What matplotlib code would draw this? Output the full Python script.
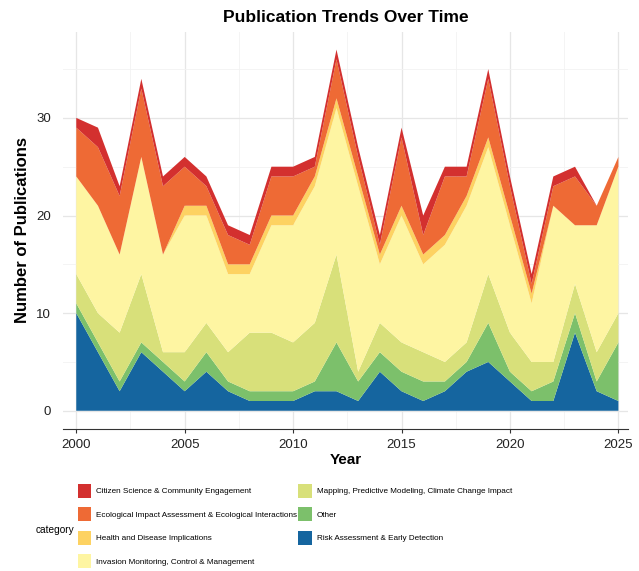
import matplotlib
matplotlib.use("Agg")
import matplotlib.pyplot as plt
from matplotlib.patches import Patch

plt.rcParams['font.family'] = ['Liberation Sans', 'DejaVu Sans']

years = list(range(2000, 2026))
categories = [
    "Citizen Science & Community Engagement",
    "Ecological Impact Assessment & Ecological Interactions",
    "Health and Disease Implications",
    "Invasion Monitoring, Control & Management",
    "Mapping, Predictive Modeling, Climate Change Impact",
    "Other",
    "Risk Assessment & Early Detection",
]
risk     = [10, 6, 2, 6, 4, 2, 4, 2, 1, 1, 1, 2, 2, 1, 4, 2, 1, 2, 4, 5, 3, 1, 1, 8, 2, 1]
other    = [1, 1, 1, 1, 1, 1, 2, 1, 1, 1, 1, 1, 5, 2, 2, 2, 2, 1, 1, 4, 1, 1, 2, 2, 1, 6]
mapping  = [3, 3, 5, 7, 1, 3, 3, 3, 6, 6, 5, 6, 9, 1, 3, 3, 3, 2, 2, 5, 4, 3, 2, 3, 3, 3]
invasion = [10, 11, 8, 12, 10, 14, 11, 8, 6, 11, 12, 14, 15, 19, 6, 13, 9, 12, 14, 13, 11, 6, 16, 6, 13, 15]
health   = [0, 0, 0, 0, 0, 1, 1, 1, 1, 1, 1, 1, 1, 1, 1, 1, 1, 1, 1, 1, 1, 1, 0, 0, 0, 0]
eco      = [5, 6, 6, 7, 7, 4, 2, 3, 2, 4, 4, 1, 4, 2, 1, 7, 2, 6, 2, 6, 3, 1, 2, 5, 2, 1]
citizen  = [1, 2, 1, 1, 1, 1, 1, 1, 1, 1, 1, 1, 1, 1, 1, 1, 2, 1, 1, 1, 1, 1, 1, 1, 0, 0]

colors = {
    categories[0]: "#D3302F",
    categories[1]: "#EE6A35",
    categories[2]: "#FDD262",
    categories[3]: "#FEF5A2",
    categories[4]: "#D8E07A",
    categories[5]: "#7CC06B",
    categories[6]: "#15659F",
}

x_ticks = [2000, 2005, 2010, 2015, 2020, 2025]
y_ticks = [0, 10, 20, 30]

fig = plt.figure(figsize=(6.39, 5.71), dpi=100)
ax = fig.add_axes([0.099, 0.249, 0.884, 0.695])

stack_order = [categories[6], categories[5], categories[4], categories[3],
               categories[2], categories[1], categories[0]]
stack_vals = [risk, other, mapping, invasion, health, eco, citizen]
ax.stackplot(years, *stack_vals, colors=[colors[c] for c in stack_order],
             linewidth=0, zorder=2)

ax.set_xlim(1999.4, 2025.45)
ax.set_ylim(-1.85, 38.8)
ax.set_xticks(x_ticks)
ax.set_yticks(y_ticks)
ax.set_xticks([2002.5, 2007.5, 2012.5, 2017.5, 2022.5], minor=True)
ax.set_yticks([5, 15, 25, 35], minor=True)
ax.grid(True, which='major', color='#E6E6E6', linewidth=0.9, zorder=0)
ax.grid(True, which='minor', color='#F2F2F2', linewidth=0.6, zorder=0)
ax.set_axisbelow(True)
for s in ['top', 'right', 'left']:
    ax.spines[s].set_visible(False)
ax.spines['bottom'].set_color('#333333')
ax.spines['bottom'].set_linewidth(0.8)
ax.tick_params(axis='both', which='both', length=0, labelsize=9.5, colors='#222222')
ax.tick_params(axis='y', which='major', pad=9)
ax.tick_params(axis='x', which='major', length=3, color='#333333', pad=4)
ax.tick_params(axis='x', which='minor', length=0)

ax.set_xlabel("Year", fontsize=11, fontweight='bold', labelpad=2)
ax.set_ylabel("Number of Publications", fontsize=12, fontweight='bold', labelpad=4)
ax.set_title("Publication Trends Over Time", fontsize=12.5, fontweight='bold', pad=7)

handles = [Patch(facecolor=colors[c], edgecolor='none', label=c) for c in categories]
leg_kw = dict(loc='upper left', frameon=False, fontsize=5.9, handlelength=1.65,
              handleheight=2.3, handletextpad=0.62, labelspacing=1.12,
              borderaxespad=0, borderpad=0)
leg1 = fig.legend(handles=handles[:4], bbox_to_anchor=(0.1215, 0.153), **leg_kw)
leg2 = fig.legend(handles=handles[4:], bbox_to_anchor=(0.4665, 0.153), **leg_kw)
fig.text(0.056, 0.0718, "category", fontsize=7.3, va='center', ha='left')

fig.savefig("out.png", dpi=100)
